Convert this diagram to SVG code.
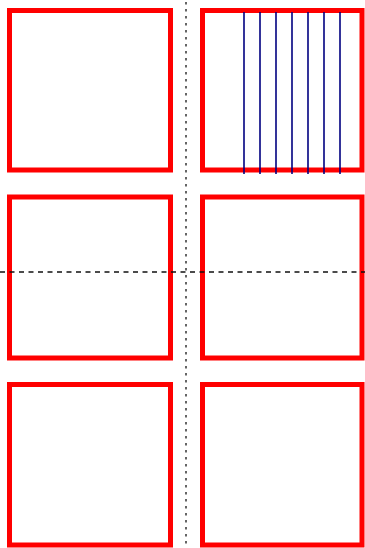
<svg xmlns="http://www.w3.org/2000/svg" width="365" height="548" viewBox="0 0 365 548">
<style>
.box{fill:none;stroke:#ff0000;stroke-width:5}
.hatch{stroke:#000080;stroke-width:1.6}
.vaxis{stroke:#333;stroke-width:1.5;stroke-dasharray:2.5 4.5}
.haxis{stroke:#111;stroke-width:1.5;stroke-dasharray:5 4.5}
</style>
<rect width="365" height="548" fill="#fff"/>
<g id="box1"><rect class="box" x="9.5" y="10.5" width="161" height="159.5"/></g>
<g id="box2"><rect class="box" x="202.5" y="10.5" width="159.5" height="159.5"/>
<g id="hatch">
<line class="hatch" x1="244" y1="12" x2="244" y2="174"/>
<line class="hatch" x1="260" y1="12" x2="260" y2="174"/>
<line class="hatch" x1="276" y1="12" x2="276" y2="174"/>
<line class="hatch" x1="292" y1="12" x2="292" y2="174"/>
<line class="hatch" x1="308" y1="12" x2="308" y2="174"/>
<line class="hatch" x1="324" y1="12" x2="324" y2="174"/>
<line class="hatch" x1="340" y1="12" x2="340" y2="174"/>
</g></g>
<g id="box3"><rect class="box" x="9.5" y="197" width="161" height="161"/></g>
<g id="box4"><rect class="box" x="202.5" y="197" width="159.5" height="161"/></g>
<g id="box5"><rect class="box" x="9.5" y="384.5" width="161" height="160.5"/></g>
<g id="box6"><rect class="box" x="202.5" y="384.5" width="159.5" height="160.5"/></g>
<g id="connectors">
<line class="vaxis" x1="186" y1="2" x2="186" y2="548"/>
<line class="haxis" x1="0" y1="272" x2="365" y2="272"/>
</g>
</svg>
